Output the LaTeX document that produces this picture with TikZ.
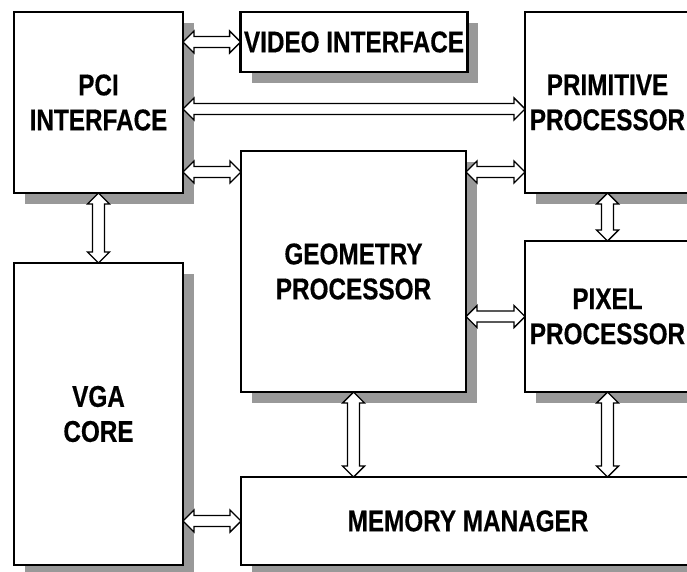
\documentclass[tikz,border=0pt]{standalone}
\usepackage{fontspec}
\newfontfamily\blockfont{Liberation Sans Bold}[FakeStretch=0.81, FakeBold=0.4]
\usetikzlibrary{shadows, calc}

% hollow two-headed bus arrows between two anchors
\newcommand{\hbus}[2]{%
  \path [draw = black, fill = white, line width = 1.4pt]
    let \p1 = (#1), \p2 = (#2) in
    (\x1, \y1) -- (\x1+11pt, \y1+11pt) -- (\x1+11pt, \y1+5.5pt) -- (\x2-11pt, \y1+5.5pt)
    -- (\x2-11pt, \y1+11pt) -- (\x2, \y1) -- (\x2-11pt, \y1-11pt) -- (\x2-11pt, \y1-5.5pt)
    -- (\x1+11pt, \y1-5.5pt) -- (\x1+11pt, \y1-11pt) -- cycle;}
\newcommand{\vbus}[2]{%
  \path [draw = black, fill = white, line width = 1.4pt]
    let \p1 = (#1), \p2 = (#2) in
    (\x1, \y1) -- (\x1+11pt, \y1-11pt) -- (\x1+6pt, \y1-11pt) -- (\x1+6pt, \y2+11pt)
    -- (\x1+11pt, \y2+11pt) -- (\x1, \y2) -- (\x1-11pt, \y2+11pt) -- (\x1-6pt, \y2+11pt)
    -- (\x1-6pt, \y1-11pt) -- (\x1-11pt, \y1-11pt) -- cycle;}

\begin{document}
\begin{tikzpicture}[x = 1pt, y = -1pt,
  block/.style = {draw = black, line width = 2.8pt, fill = white, outer sep = 0pt,
    align = center, font = \blockfont\fontsize{30}{35}\selectfont,
    drop shadow = {shadow xshift = 11pt, shadow yshift = -11pt, opacity = 1, fill = black!40}}]

\useasboundingbox (0, 0) rectangle (687, 572);

\node [block, minimum width = 169pt, minimum height = 181pt] (pci) at (98.5, 102.5) {PCI\\INTERFACE};
\node [block, minimum width = 226pt, minimum height = 60pt] (video) at (354, 42) {VIDEO INTERFACE};
\node [block, minimum width = 165pt, minimum height = 181pt] (prim) at (607.5, 102.5) {PRIMITIVE\\PROCESSOR};
\node [block, minimum width = 225pt, minimum height = 241pt] (geom) at (353.5, 271.5) {GEOMETRY\\PROCESSOR};
\node [block, minimum width = 165pt, minimum height = 151pt] (pixel) at (607.5, 316.5) {PIXEL\\PROCESSOR};
\node [block, minimum width = 169pt, minimum height = 302pt] (vga) at (98.5, 414) {VGA\\CORE};
\node [block, minimum width = 454pt, minimum height = 88pt] (mem) at (468, 521) {MEMORY MANAGER};

\hbus{pci.east |- video.west}{video.west}
\hbus{pci.east |- 0, 109}{prim.west |- 0, 109}
\hbus{pci.east |- 0, 172}{geom.west |- 0, 172}
\hbus{geom.east |- 0, 172}{prim.west |- 0, 172}
\hbus{geom.east |- pixel.west}{pixel.west}
\hbus{vga.east |- mem.west}{mem.west}

\vbus{pci.south}{vga.north}
\vbus{prim.south}{pixel.north}
\vbus{geom.south}{geom.south |- mem.north}
\vbus{pixel.south}{pixel.south |- mem.north}

\end{tikzpicture}
\end{document}
